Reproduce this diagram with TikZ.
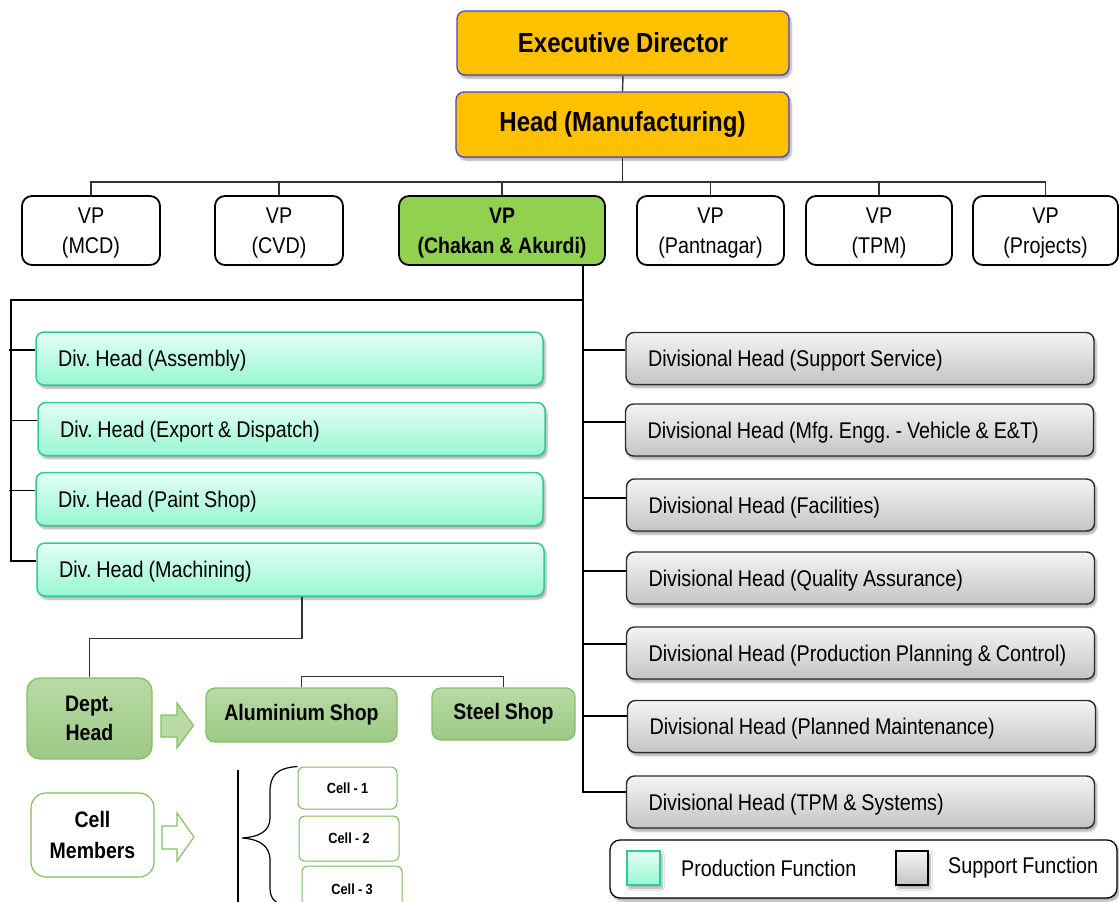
\documentclass[tikz,border=0pt]{standalone}
\usepackage{fontspec}
\setmainfont{Liberation Sans}[FakeStretch=0.87,WordSpace=0.9]
\usetikzlibrary{shadows.blur}
\frenchspacing
\hyphenpenalty=10000
\exhyphenpenalty=10000

\definecolor{topyellow}{HTML}{FFC000}
\definecolor{topblue}{HTML}{4A44C8}
\definecolor{vpgreen}{HTML}{92D050}
\definecolor{prodtop}{HTML}{E4FFF5}
\definecolor{prodbot}{HTML}{98F7D2}
\definecolor{prodedge}{HTML}{2FCB92}
\definecolor{supptop}{HTML}{F4F4F4}
\definecolor{suppbot}{HTML}{C4C4C4}
\definecolor{suppedge}{HTML}{2A2A2A}
\definecolor{leadtop}{HTML}{B9DAA6}
\definecolor{leadbot}{HTML}{9CC985}
\definecolor{leadedge}{HTML}{86C066}
\definecolor{celledge}{HTML}{7DBB5A}
\definecolor{linegray}{HTML}{333333}

\begin{document}
\begin{tikzpicture}[x=1pt,y=-1pt,
  softshadow/.style={blur shadow={shadow xshift=2pt,shadow yshift=-3pt,shadow blur steps=6,shadow opacity=35}},
  txt/.style={font=\fontsize{22.7}{30}\selectfont\frenchspacing},
  topbox/.style={draw=topblue,line width=1.3pt,fill=topyellow,rounded corners=8pt,
    minimum width=332pt,minimum height=64pt,inner sep=0pt,softshadow,
    font=\fontsize{27.6}{32}\selectfont\bfseries},
  vpbox/.style={draw=black,line width=1.8pt,fill=white,rounded corners=10pt,
    minimum height=69pt,inner sep=0pt,align=center,txt,text depth=0pt},
  prodbox/.style={draw=prodedge,line width=1.5pt,top color=prodtop,bottom color=prodbot,
    rounded corners=8pt,minimum height=53pt,text width=463pt,inner xsep=22pt,inner ysep=0pt,
    align=flush left,softshadow,txt,text depth=0pt},
  suppbox/.style={draw=suppedge,line width=1.4pt,top color=supptop,bottom color=suppbot,
    rounded corners=8pt,minimum height=52pt,text width=432pt,inner xsep=18pt,inner ysep=0pt,
    align=flush left,softshadow,txt,text depth=0pt},
  leadbox/.style={draw=leadedge,line width=1.3pt,top color=leadtop,bottom color=leadbot,
    rounded corners=9pt,inner sep=0pt,align=center,
    font=\fontsize{22.4}{29}\selectfont\bfseries},
  cellbox/.style={draw=celledge,line width=1pt,fill=white,rounded corners=6pt,inner sep=0pt,
    minimum width=100pt,font=\fontsize{14.7}{17}\selectfont\bfseries},
  link/.style={draw=linegray,line width=1.4pt},
  branch/.style={draw=black,line width=1.6pt},
  arrowshape/.style={draw=leadedge,line width=1.2pt,line join=miter}
]
\useasboundingbox (0,0) rectangle (1119,902);
\clip (0,0) rectangle (1119,902);

% top management
\node[topbox] (ed) at (623,43) {Executive Director};
\node[topbox,minimum width=333pt,minimum height=65pt] (hm) at (622.5,124.5) {Head (Manufacturing)};

% vice presidents
\node[vpbox,minimum width=138pt] (vp1) at (91,230.5) {VP\\(MCD)};
\node[vpbox,minimum width=128pt] (vp2) at (279,230.5) {VP\\(CVD)};
\node[vpbox,minimum width=206pt,fill=vpgreen,font=\fontsize{22.4}{30}\selectfont\bfseries] (vp3) at (502,230.5) {VP\\(Chakan \& Akurdi)};
\node[vpbox,minimum width=147pt] (vp4) at (710.5,230.5) {VP\\(Pantnagar)};
\node[vpbox,minimum width=146pt] (vp5) at (879,230.5) {VP\\(TPM)};
\node[vpbox,minimum width=145pt] (vp6) at (1045.5,230.5) {VP\\(Projects)};

% production functions
\node[prodbox] (p1) at (289.5,358.5) {Div. Head (Assembly)};
\node[prodbox] (p2) at (291.5,429) {Div. Head (Export \& Dispatch)};
\node[prodbox] (p3) at (289.5,499) {Div. Head (Paint Shop)};
\node[prodbox] (p4) at (290.5,569.5) {Div. Head (Machining)};

% support functions
\node[suppbox] (s1) at (860,358.5) {\hspace{4pt}Divisional Head (Support Service)};
\node[suppbox] (s2) at (859.5,430) {\hspace{4pt}Divisional Head (Mfg. Engg. - Vehicle \& E\&T)};
\node[suppbox] (s3) at (860.5,505) {\hspace{4pt}Divisional Head (Facilities)};
\node[suppbox] (s4) at (860.5,578) {\hspace{4pt}Divisional Head (Quality Assurance)};
\node[suppbox] (s5) at (860.5,653) {\hspace{4pt}Divisional Head (Production Planning \& Control)};
\node[suppbox] (s6) at (861.5,726.5) {\hspace{4pt}Divisional Head (Planned Maintenance)};
\node[suppbox] (s7) at (860.5,802) {\hspace{4pt}Divisional Head (TPM \& Systems)};

% department level
\node[leadbox,minimum width=125pt,minimum height=81pt,rounded corners=13pt] (dh) at (89.5,718.5) {Dept.\\Head};
\node[leadbox,minimum width=191pt,minimum height=54pt] (al) at (301.5,715) {Aluminium Shop};
\node[leadbox,minimum width=143pt,minimum height=52pt] (st) at (503.5,714) {Steel Shop};

% cell level
\node[leadbox,top color=white,bottom color=white,draw=celledge,line width=1.1pt,
  rounded corners=15pt,minimum width=123pt,minimum height=84pt,
  font=\fontsize{22.4}{31}\selectfont\bfseries] (cm) at (92.5,835) {Cell\\Members};
\node[cellbox,minimum width=99pt,minimum height=42pt] (c1) at (347.5,788) {Cell - 1};
\node[cellbox,minimum height=45pt] (c2) at (349,838.5) {Cell - 2};
\node[cellbox,minimum height=46pt] (c3) at (352,889) {Cell - 3};

% block arrows
\draw[arrowshape,fill=leadtop] (161,715) -- (177,715) -- (177,703) -- (193.5,725.5)
  -- (177,748) -- (177,737) -- (161,737) -- cycle;
\draw[arrowshape,fill=white] (162,826) -- (177,826) -- (177,813) -- (194,837)
  -- (177,861) -- (177,849) -- (162,849) -- cycle;

% cell bracket
\coordinate (bar top) at (238,770);
\coordinate (bar bot) at (238,905);
\draw[line width=1.2pt] (bar top) -- (bar bot);
\draw[line width=1.2pt] (c1.north west) .. controls (276,768) and (270,776) .. (270,792)
  -- (270,818) .. controls (270,832) and (258,837) .. (242,838)
  .. controls (258,839) and (270,845) .. (270,860)
  -- (270,888) .. controls (270,900) and (276,906) .. (298,908);

% connectors: top management and VPs
\draw[link] (ed.south) -- (hm.north);
\coordinate (bus) at (622.5,182);
\draw[link] (hm.south) -- (bus);
\draw[link] (vp1.north) |- (bus) -| (vp6.north);
\foreach \v in {vp2,vp3,vp4,vp5}
  \draw[link] (\v.north) -- (\v.north |- bus);

% connectors: VP (Chakan & Akurdi) to divisional heads
\coordinate (spine top) at (583,265);
\coordinate (left top) at (11,300);
\draw[branch] (spine top) |- ([yshift=10pt]s7.west);
\draw[branch] (spine top |- left top) -- (left top) |- ([yshift=8.5pt]p4.west);
\foreach \p in {p1,p2,p3}
  \draw[branch] ([yshift=8.5pt]\p.west) -- ++(-26,0);
\foreach \s/\d/\l in {s1/8.5/43,s2/8/42,s3/7/44,s4/7/44,s5/9/44,s6/10.5/45}
  \draw[branch] ([yshift=\d pt]\s.west) -- ++(-\l,0);

% connectors: machining to department head, shops
\draw[link] ([xshift=11.5pt]p4.south) -- ++(0,42) -| (dh.north);
\draw[link] (al.north) -- ++(0,-11) -| (st.north);

% legend
\node[draw=black,line width=1.3pt,fill=white,rounded corners=10pt,minimum width=507pt,
  minimum height=58pt,softshadow] (legend) at (863.5,869) {};
\node[draw=prodedge,line width=1.6pt,top color=prodtop,bottom color=prodbot,minimum width=33pt,
  minimum height=34pt,inner sep=0pt,softshadow] (lg1) at (643.5,868) {};
\node[draw=black,line width=1.4pt,top color=supptop,bottom color=suppbot,minimum width=32pt,
  minimum height=34pt,inner sep=0pt,softshadow] (lg2) at (912,868) {};
\node[txt,anchor=west,inner sep=0pt] (lt1) at (681,868) {Production Function};
\node[txt,anchor=west,inner sep=0pt] (lt2) at (948,868) {Support Function};
\end{tikzpicture}
\end{document}
